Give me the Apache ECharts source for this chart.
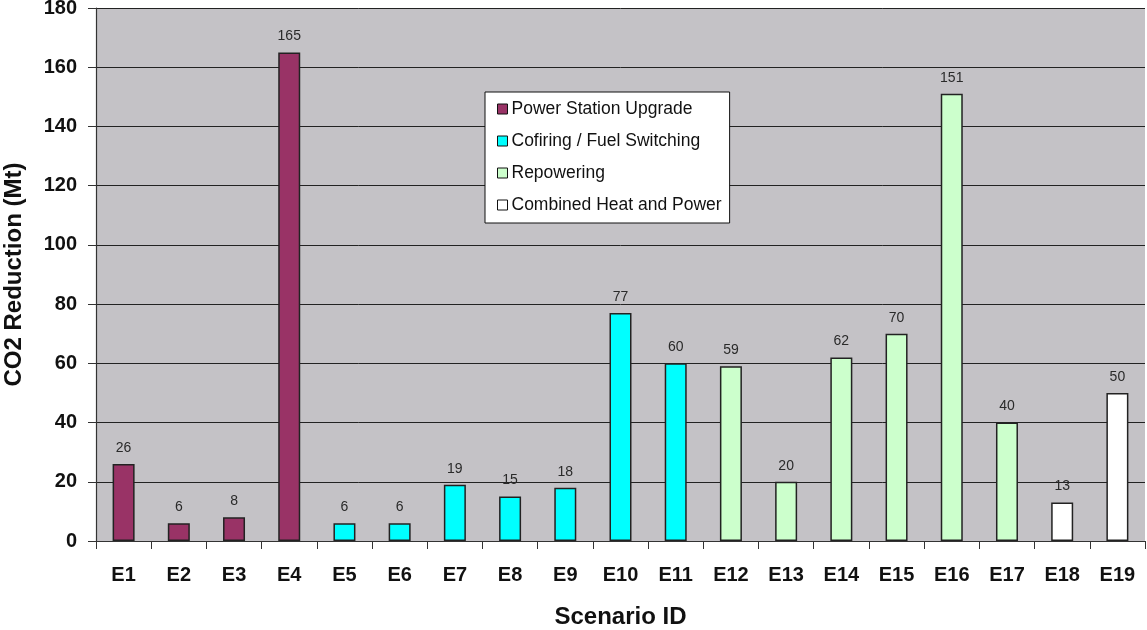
<!DOCTYPE html>
<html>
<head>
<meta charset="utf-8">
<script src="https://cdn.jsdelivr.net/npm/echarts@6/dist/echarts.min.js"></script>
<style>
  html, body { margin: 0; padding: 0; background: #fff; }
  #chart { width: 1147px; height: 630px; }
</style>
</head>
<body>
<div id="chart"></div>
<script>
// Scenario IDs along the x axis
const scenarios = ['E1','E2','E3','E4','E5','E6','E7','E8','E9','E10','E11','E12','E13','E14','E15','E16','E17','E18','E19'];

// CO2 reduction (Mt) per scenario group; '-' where a scenario belongs to another group
const powerStationUpgrade = [26, 6, 8, 165, '-', '-', '-', '-', '-', '-', '-', '-', '-', '-', '-', '-', '-', '-', '-'];
const cofiringFuelSwitching = ['-', '-', '-', '-', 6, 6, 19, 15, 18, 77, 60, '-', '-', '-', '-', '-', '-', '-', '-'];
const repowering = ['-', '-', '-', '-', '-', '-', '-', '-', '-', '-', '-', 59, 20, 62, 70, 151, 40, '-', '-'];
const combinedHeatPower = ['-', '-', '-', '-', '-', '-', '-', '-', '-', '-', '-', '-', '-', '-', '-', '-', '-', 13, 50];

const groupNames = ['Power Station Upgrade', 'Cofiring / Fuel Switching', 'Repowering', 'Combined Heat and Power'];
const groupColors = ['#993366', '#00FFFF', '#CCFFCC', '#FFFFFF'];
const groupData = [powerStationUpgrade, cofiringFuelSwitching, repowering, combinedHeatPower];

const FONT = 'Arial, "Liberation Sans", sans-serif';

const chart = echarts.init(document.getElementById('chart'));

const series = groupData.map((d, i) => ({
  name: groupNames[i],
  type: 'bar',
  stack: 'all',
  data: d,
  barWidth: 22,
  itemStyle: { color: groupColors[i], borderColor: '#222', borderWidth: 1.5 },
  label: {
    show: true,
    position: 'top',
    distance: 9,
    color: '#2a2a2a',
    fontFamily: FONT,
    fontSize: 14
  }
}));

chart.setOption({
  animation: false,
  backgroundColor: '#fff',
  grid: {
    left: 96, right: 2, top: 8, bottom: 89,
    outerBoundsMode: 'none',
    show: true,
    backgroundColor: '#C4C2C6',
    borderWidth: 0
  },
  legend: {
    orient: 'vertical',
    left: 485, top: 92,
    padding: [8, 8, 9, 12],
    itemGap: 14,
    itemWidth: 10, itemHeight: 10,
    backgroundColor: '#fff',
    borderColor: '#111',
    borderWidth: 1,
    borderRadius: 0,
    icon: 'rect',
    itemStyle: { borderColor: '#111', borderWidth: 1 },
    textStyle: {
      fontFamily: FONT,
      fontSize: 17.5,
      color: '#111',
      padding: [0, 0, 0, -1]
    },
    data: groupNames
  },
  xAxis: {
    type: 'category',
    data: scenarios,
    name: 'Scenario ID',
    nameLocation: 'middle',
    nameGap: 64,
    nameTextStyle: {
      fontFamily: FONT,
      fontSize: 24, fontWeight: 'bold', color: '#111'
    },
    axisLine: { show: true, lineStyle: { color: '#333', width: 1.2 } },
    axisTick: { show: true, length: 8, inside: false, lineStyle: { color: '#333' } },
    axisLabel: {
      margin: 24,
      fontFamily: FONT,
      fontSize: 20, fontWeight: 'bold', color: '#111'
    },
    splitLine: { show: false }
  },
  yAxis: {
    type: 'value',
    min: 0, max: 180, interval: 20,
    name: 'CO2 Reduction (Mt)',
    nameLocation: 'middle',
    nameGap: 70,
    nameRotate: 90,
    nameTextStyle: {
      fontFamily: FONT,
      fontSize: 24, fontWeight: 'bold', color: '#111'
    },
    axisLine: { show: true, lineStyle: { color: '#333', width: 1.2 } },
    axisTick: { show: true, length: 8, lineStyle: { color: '#333' } },
    axisLabel: {
      margin: 19,
      fontFamily: FONT,
      fontSize: 20, fontWeight: 'bold', color: '#111'
    },
    splitLine: { show: true, lineStyle: { color: '#222', width: 1 } }
  },
  series: series
});
</script>
</body>
</html>
